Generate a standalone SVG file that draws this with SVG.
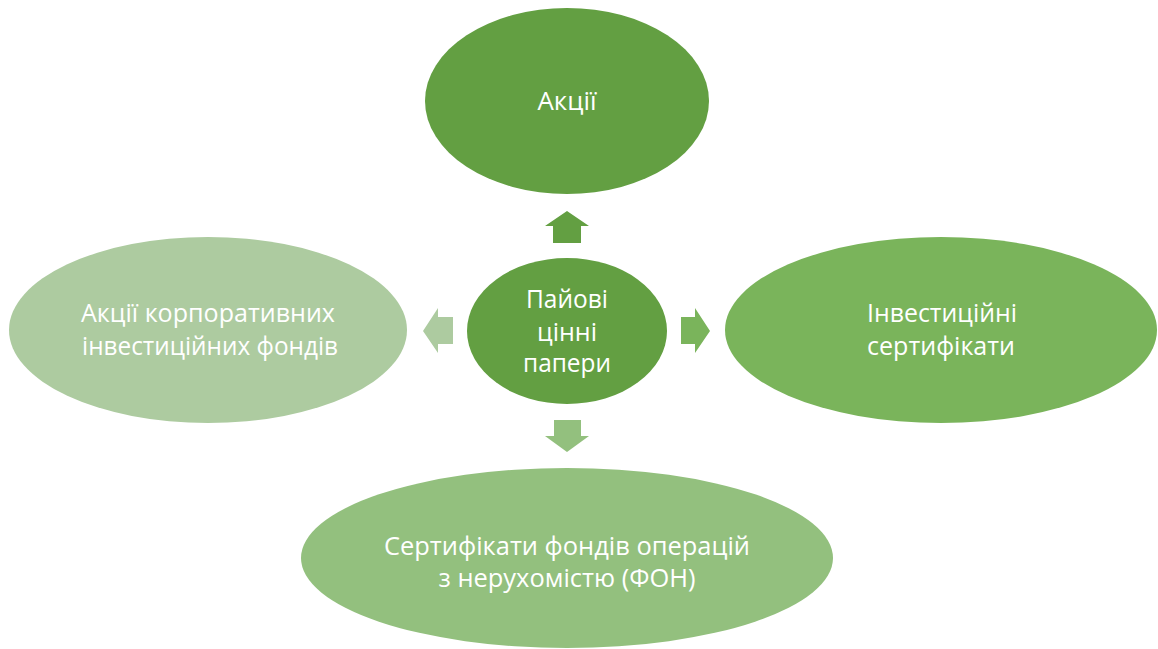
<svg xmlns="http://www.w3.org/2000/svg" width="1158" height="649" viewBox="0 0 1158 649">
<style>
text{font-family:"Open Sans","Noto Sans","Liberation Sans",sans-serif;font-size:25px;fill:#ffffff;text-anchor:middle}
.c1{fill:#639F42}
.c2{fill:#7AB45B}
.c3{fill:#93C07E}
.c4{fill:#ADCBA0}
</style>
<rect width="1158" height="649" fill="#ffffff"/>
<g id="connectors">
<polygon class="c1" points="567,211 589,226 581,226 581,243 553,243 553,226 545,226"/>
<polygon class="c2" points="710,331 695,308 695,317 681,317 681,344 695,344 695,353"/>
<polygon class="c3" points="567,452 589,436 581,436 581,420 554,420 554,436 545,436"/>
<polygon class="c4" points="423,331 438,308 438,317 453,317 453,344 438,344 438,353"/>
</g>
<g id="node-top">
<ellipse class="c1" cx="567" cy="101" rx="142" ry="93"/>
<text x="567" y="110" textLength="59" lengthAdjust="spacingAndGlyphs">Акції</text>
</g>
<g id="node-center">
<ellipse class="c1" cx="567" cy="331" rx="100" ry="73"/>
<text x="567" y="308" textLength="82" lengthAdjust="spacingAndGlyphs">Пайові</text>
<text x="567" y="341" textLength="60" lengthAdjust="spacingAndGlyphs">цінні</text>
<text x="567" y="372" textLength="88" lengthAdjust="spacingAndGlyphs">папери</text>
</g>
<g id="node-right">
<ellipse class="c2" cx="941" cy="330" rx="216" ry="93"/>
<text x="942" y="322" textLength="150" lengthAdjust="spacingAndGlyphs">Інвестиційні</text>
<text x="941" y="355" textLength="148" lengthAdjust="spacingAndGlyphs">сертифікати</text>
</g>
<g id="node-bottom">
<ellipse class="c3" cx="567" cy="558" rx="266" ry="90"/>
<text x="567" y="555" textLength="366" lengthAdjust="spacingAndGlyphs">Сертифікати фондів операцій</text>
<text x="567" y="587" textLength="257" lengthAdjust="spacingAndGlyphs">з нерухомістю (ФОН)</text>
</g>
<g id="node-left">
<ellipse class="c4" cx="208" cy="330" rx="199" ry="93"/>
<text x="208" y="322" textLength="254" lengthAdjust="spacingAndGlyphs">Акції корпоративних</text>
<text x="210" y="355" textLength="256" lengthAdjust="spacingAndGlyphs">інвестиційних фондів</text>
</g>
</svg>
